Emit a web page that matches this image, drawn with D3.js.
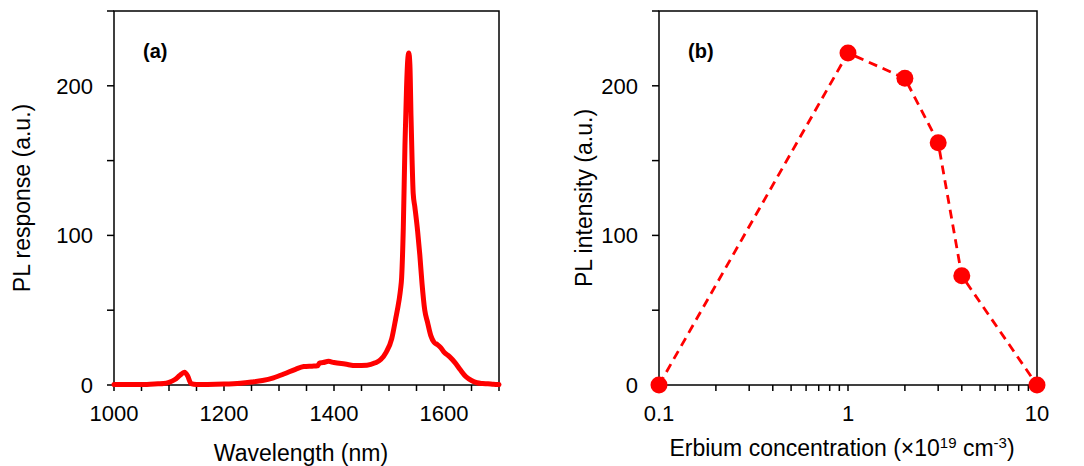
<!DOCTYPE html>
<html>
<head>
    <title>Erbium PL</title>
    <script src="https://d3js.org/d3.v7.min.js"></script>
    <style>
        body {
            margin: 0;
            padding: 0;
            background: white;
        }
        svg text {
            font-family: Arial, "Liberation Sans", sans-serif;
            fill: black;
        }
    </style>
</head>
<body>
    <div id="chart"></div>

    <script>
        // panel (a): PL spectrum
        const wavelength = [1000, 1020, 1040, 1060, 1080, 1090, 1100, 1110, 1120, 1128, 1134, 1140, 1150, 1170, 1200,
            1230, 1250, 1270, 1290, 1310, 1330, 1345, 1360, 1370, 1374, 1380, 1390, 1400, 1420, 1440, 1460,
            1475, 1485, 1495, 1505, 1512, 1518, 1521, 1523, 1526, 1529, 1532, 1534, 1536, 1538, 1540, 1542,
            1544, 1547, 1552, 1556, 1560, 1565, 1570, 1576, 1582, 1588, 1594, 1600, 1610, 1620, 1630, 1640,
            1650, 1660, 1670, 1680, 1690, 1700];
        const plResponse = [0.3, 0.3, 0.3, 0.4, 0.8, 1, 1.8, 3.5, 6.5, 8.5, 6, 1, 0.4, 0.4, 0.6,
            1.2, 2, 3, 4.8, 7.5, 10.5, 12.3, 12.6, 12.8, 14.8, 15, 15.8, 15, 14, 13, 13.2,
            14.8, 17, 22, 31, 44, 56, 64, 72, 105, 160, 200, 217, 222, 214, 180, 150,
            128, 119, 103, 87, 68, 50, 42, 33, 28.5, 27, 25, 22, 19, 15, 10, 5.5,
            3, 1.5, 1, 0.8, 0.5, 0.3];

        // panel (b): PL intensity vs erbium concentration
        const concentration = [0.1, 1, 2, 3, 4, 10];
        const plIntensity = [0, 222, 205, 162, 73, 0];

        const yTicks = [0, 50, 100, 150, 200, 250];
        const yLabels = [0, 100, 200];
        const xTicksA = d3.range(1000, 1701, 50);
        const xLabelsA = [1000, 1200, 1400, 1600];
        const xLabelsB = [0.1, 1, 10];

        const width = 1084, height = 466;
        const red = "#ff0000";

        var svg = d3.select("#chart").append("svg")
            .attr("width", width)
            .attr("height", height);

        function drawFrame(x, y, xTicks, xLabels, yTitle, yTitleX, xTitleFn, tag) {
            var x0 = x.range()[0], x1 = x.range()[1];
            var y0 = y.range()[0], y1 = y.range()[1];

            // box
            svg.append("rect")
                .attr("x", x0).attr("y", y1)
                .attr("width", x1 - x0).attr("height", y0 - y1)
                .attr("fill", "none")
                .attr("stroke", "black")
                .attr("stroke-width", 1.5);

            // y axis ticks
            svg.append("g").selectAll("line")
                .data(yTicks)
                .enter().append("line")
                .attr("x1", x0 - 7).attr("x2", x0)
                .attr("y1", d => y(d)).attr("y2", d => y(d))
                .attr("stroke", "black")
                .attr("stroke-width", 1.5);

            svg.append("g").selectAll("text")
                .data(yLabels)
                .enter().append("text")
                .attr("x", x0 - 21)
                .attr("y", d => y(d))
                .attr("dy", "0.36em")
                .attr("text-anchor", "end")
                .style("font-size", "22px")
                .text(d => d);

            // x axis ticks
            svg.append("g").selectAll("line")
                .data(xTicks)
                .enter().append("line")
                .attr("x1", d => x(d)).attr("x2", d => x(d))
                .attr("y1", y0).attr("y2", y0 + 6)
                .attr("stroke", "black")
                .attr("stroke-width", 1.5);

            svg.append("g").selectAll("text")
                .data(xLabels)
                .enter().append("text")
                .attr("x", d => x(d))
                .attr("y", 421)
                .attr("text-anchor", "middle")
                .style("font-size", "22px")
                .text(d => d);

            // y title
            svg.append("text")
                .attr("transform", "translate(" + yTitleX + "," + ((y0 + y1) / 2) + ") rotate(-90)")
                .attr("text-anchor", "middle")
                .style("font-size", "23px")
                .text(yTitle);

            xTitleFn();

            // panel tag
            svg.append("text")
                .attr("x", x0 + 29)
                .attr("y", 58)
                .style("font-size", "20px")
                .style("font-weight", "bold")
                .text(tag);
        }

        // ---- panel (a) ----
        var xA = d3.scaleLinear().domain([1000, 1700]).range([114, 499]);
        var yA = d3.scaleLinear().domain([0, 250]).range([385, 11]);

        drawFrame(xA, yA, xTicksA, xLabelsA, "PL response (a.u.)", 30, function () {
            svg.append("text")
                .attr("x", 301)
                .attr("y", 461)
                .attr("text-anchor", "middle")
                .style("font-size", "23px")
                .text("Wavelength (nm)");
        }, "(a)");

        var spectrum = wavelength.map((w, i) => ({ x: w, y: plResponse[i] }));

        svg.append("path")
            .datum(spectrum)
            .attr("fill", "none")
            .attr("stroke", red)
            .attr("stroke-width", 5)
            .attr("stroke-linejoin", "round")
            .attr("stroke-linecap", "round")
            .attr("d", d3.line()
                .x(d => xA(d.x))
                .y(d => yA(d.y))
                .curve(d3.curveMonotoneX));

        // ---- panel (b) ----
        var xB = d3.scaleLog().domain([0.1, 10]).range([659, 1037]);
        var yB = d3.scaleLinear().domain([0, 250]).range([385, 11]);

        var logTicks = [];
        [0.1, 1].forEach(dec => {
            for (var k = 1; k <= 9; k++) logTicks.push(dec * k);
        });
        logTicks.push(10);

        drawFrame(xB, yB, logTicks, xLabelsB, "PL intensity (a.u.)", 592, function () {
            var t = svg.append("text")
                .attr("x", 842)
                .attr("y", 456)
                .attr("text-anchor", "middle")
                .style("font-size", "23px");
            t.append("tspan").text("Erbium concentration (\u00d710");
            t.append("tspan").attr("dy", -8).style("font-size", "15px").text("19");
            t.append("tspan").attr("dy", 8).text(" cm");
            t.append("tspan").attr("dy", -8).style("font-size", "15px").text("-3");
            t.append("tspan").attr("dy", 8).text(")");
        }, "(b)");

        var points = concentration.map((c, i) => ({ x: c, y: plIntensity[i] }));

        svg.append("path")
            .datum(points)
            .attr("fill", "none")
            .attr("stroke", red)
            .attr("stroke-width", 2.8)
            .attr("stroke-dasharray", "9,6")
            .attr("d", d3.line()
                .x(d => xB(d.x))
                .y(d => yB(d.y)));

        svg.append("g").selectAll("circle")
            .data(points)
            .enter().append("circle")
            .attr("cx", d => xB(d.x))
            .attr("cy", d => yB(d.y))
            .attr("r", 8.5)
            .attr("fill", red);
    </script>
</body>
</html>
